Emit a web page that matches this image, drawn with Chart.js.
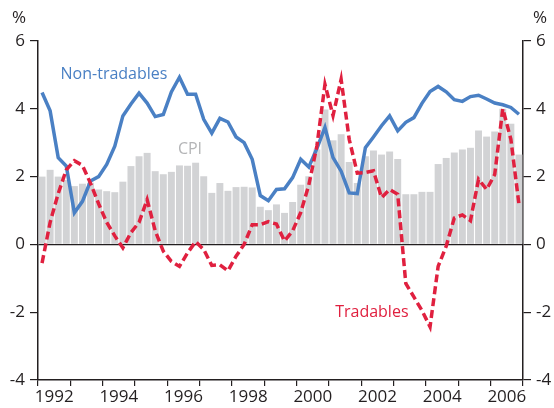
<!DOCTYPE html>
<html>
<head>
<meta charset="utf-8">
<script src="https://cdn.jsdelivr.net/npm/chart.js@4"></script>
<style>
  html, body { margin: 0; padding: 0; background: #fff; }
  #wrap { width: 554px; height: 408px; }
</style>
</head>
<body>
<div id="wrap"><canvas id="chart" width="554" height="408"></canvas></div>
<script>
// quarterly, 1992 Q1 .. 2006 Q4
const startYear = 1992;
const quarters = [];
for (let y = startYear; y <= 2006; y++) {
  for (let q = 1; q <= 4; q++) quarters.push(y + ' Q' + q);
}

const cpi = [
  2.0, 2.2, 2.0, 1.9, 1.72, 1.79, 1.82, 1.62, 1.57, 1.54,
  1.85, 2.31, 2.6, 2.7, 2.16, 2.07, 2.14, 2.33, 2.32, 2.41,
  2.01, 1.52, 1.81, 1.58, 1.69, 1.7, 1.68, 1.11, 1.01, 1.18,
  0.93, 1.25, 1.76, 2.01, 2.8, 3.98, 3.07, 3.25, 2.43, 1.81,
  2.6, 2.77, 2.65, 2.74, 2.52, 1.48, 1.48, 1.55, 1.55, 2.37,
  2.55, 2.71, 2.8, 2.85, 3.36, 3.18, 3.33, 4.0, 3.56, 2.65
];

const nonTradables = [
  4.48, 3.94, 2.56, 2.31, 0.93, 1.27, 1.87, 2.0, 2.36, 2.9,
  3.79, 4.14, 4.46, 4.17, 3.77, 3.83, 4.5, 4.93, 4.43, 4.43,
  3.69, 3.28, 3.72, 3.61, 3.17, 3.0, 2.51, 1.44, 1.29, 1.62,
  1.64, 1.97, 2.51, 2.28, 2.83, 3.45, 2.56, 2.16, 1.52, 1.5,
  2.85, 3.17, 3.5, 3.79, 3.35, 3.6, 3.74, 4.16, 4.51, 4.66,
  4.5, 4.27, 4.22, 4.36, 4.4, 4.29, 4.17, 4.12, 4.04, 3.84
];

const tradables = [
  -0.55, 0.65, 1.5, 2.2, 2.47, 2.33, 1.8, 1.2, 0.65, 0.25,
  -0.1, 0.35, 0.65, 1.32, 0.4, -0.2, -0.5, -0.65, -0.25, 0.08,
  -0.15, -0.62, -0.6, -0.78, -0.35, 0.0, 0.58, 0.58, 0.67, 0.6,
  0.1, 0.4, 0.94, 1.75, 2.9, 4.72, 3.8, 4.87, 3.1, 2.1,
  2.12, 2.17, 1.38, 1.62, 1.48, -1.15, -1.55, -1.95, -2.43, -0.65,
  -0.05, 0.78, 0.87, 0.7, 1.92, 1.62, 2.06, 4.0, 3.1, 1.18
];

const yTicks = [-4, -2, 0, 2, 4, 6];

const BLUE = '#4a80c4';
const RED = '#e0203f';
const GREY = '#d2d3d5';
const INK = '#231f20';
const FONT = '"Open Sans", "Noto Sans", sans-serif';

// series labels, placed in data units (category index, value)
const seriesLabels = [
  { text: 'Non-tradables', x: 8.9, y: 5.0, color: BLUE },
  { text: 'CPI', x: 18.3, y: 2.8, color: '#b4b5b7' },
  { text: 'Tradables', x: 40.8, y: -2.0, color: RED }
];

const labelPlugin = {
  id: 'labels',
  afterDraw(chart) {
    const c = chart.ctx;
    const xs = chart.scales.x, ys = chart.scales.y;
    const area = chart.chartArea;
    c.save();
    c.font = '16px ' + FONT;
    c.textAlign = 'center';
    c.textBaseline = 'middle';
    seriesLabels.forEach(l => {
      c.fillStyle = l.color;
      const px = xs.getPixelForValue(l.x);
      c.fillText(l.text, px, ys.getPixelForValue(l.y));
    });
    // unit markers above both axes
    c.fillStyle = INK;
    c.font = '17px ' + FONT;
    c.fillText('%', area.left - 19, area.top - 23);
    c.fillText('%', area.right + 17, area.top - 23);
    c.restore();
  }
};

const yAxis = (pos) => ({
  position: pos,
  min: -4,
  max: 6,
  afterBuildTicks(s) { s.ticks = yTicks.map(v => ({ value: v })); },
  afterFit(s) { s.width = pos === 'left' ? 38 : 31; },
  grid: {
    drawOnChartArea: pos === 'left',
    color: ctx => (ctx.tick && ctx.tick.value === 0) ? INK : 'rgba(0,0,0,0)',
    tickColor: INK,
    tickLength: 8,
    lineWidth: 1.2
  },
  border: { display: true, color: INK, width: 1.5 },
  ticks: { color: INK, font: { family: FONT, size: 17 }, padding: 5 }
});

new Chart(document.getElementById('chart'), {
  data: {
    labels: quarters,
    datasets: [
      {
        type: 'line', label: 'Tradables', data: tradables, order: 0,
        borderColor: RED, borderWidth: 3.5, borderDash: [8, 4],
        pointRadius: 0, tension: 0, fill: false
      },
      {
        type: 'line', label: 'Non-tradables', data: nonTradables, order: 1,
        borderColor: BLUE, borderWidth: 3.5,
        pointRadius: 0, tension: 0, fill: false
      },
      {
        type: 'bar', label: 'CPI', data: cpi, order: 2,
        backgroundColor: GREY, borderWidth: 0,
        barPercentage: 0.86, categoryPercentage: 1
      }
    ]
  },
  options: {
    responsive: false,
    animation: false,
    layout: { padding: { top: 41, left: 0, right: 0, bottom: 0 } },
    plugins: { legend: { display: false }, tooltip: { enabled: false } },
    scales: {
      x: { type: 'category', offset: true, display: false },
      years: {
        type: 'linear',
        position: 'bottom',
        min: 0,
        max: quarters.length,
        afterBuildTicks(s) {
          const t = [];
          for (let v = 0; v <= quarters.length; v += 2) t.push({ value: v });
          s.ticks = t;
        },
        afterFit(s) { s.height = 28; },
        grid: {
          drawOnChartArea: false,
          tickColor: ctx => (ctx.tick && ctx.tick.value % 4 === 0) ? INK : 'rgba(0,0,0,0)',
          tickLength: 6,
          lineWidth: 1.2
        },
        border: { display: true, color: INK, width: 1.5 },
        ticks: {
          autoSkip: false,
          maxRotation: 0,
          color: INK,
          font: { family: FONT, size: 17 },
          padding: 1,
          callback: v => ((v - 2) % 8 === 0) ? String(startYear + (v - 2) / 4) : ''
        }
      },
      y: yAxis('left'),
      y2: yAxis('right')
    }
  },
  plugins: [labelPlugin]
});
</script>
</body>
</html>
